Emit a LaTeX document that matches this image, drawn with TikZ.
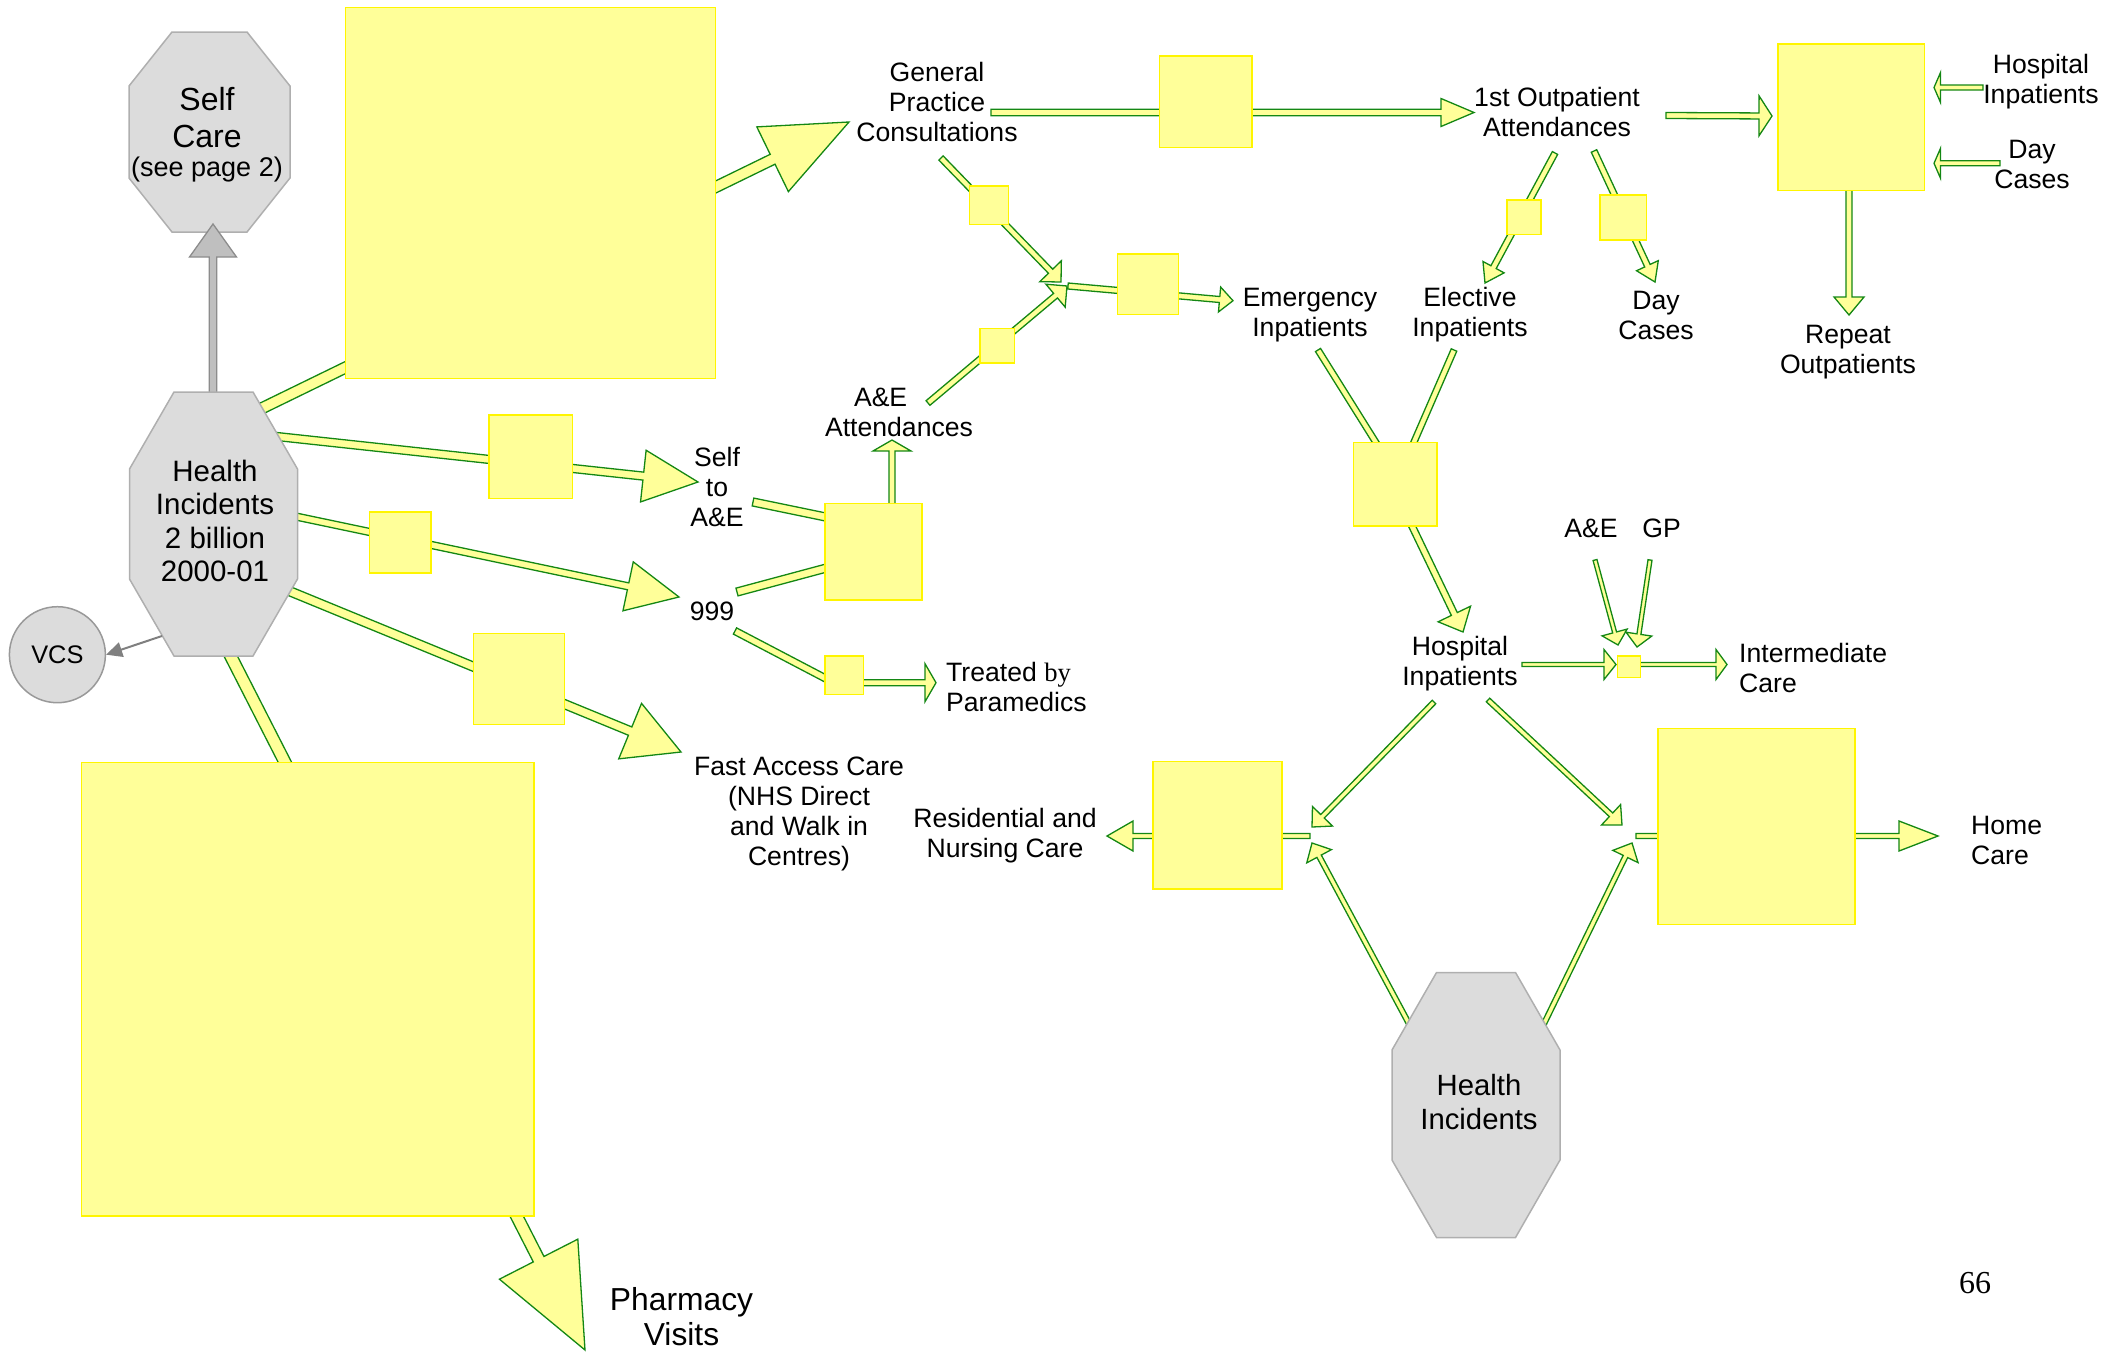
\documentclass[tikz,border=0pt]{standalone}
\usepackage{fontspec}
\setmainfont{Liberation Sans}
\newfontfamily\timesfont{Liberation Serif}
\usetikzlibrary{calc,arrows.meta}

\definecolor{flowFill}{RGB}{255,255,153}
\definecolor{flowEdge}{RGB}{20,135,20}
\definecolor{boxEdge}{RGB}{255,245,0}
\definecolor{caseFill}{RGB}{220,220,220}
\definecolor{caseEdge}{RGB}{175,175,175}

\tikzset{
  flow/.style={draw=flowEdge, fill=flowFill, line width=1.3pt},
  selfflow/.style={draw=black!45, fill=black!25, line width=1.3pt},
  box/.style={draw=boxEdge, fill=flowFill, line width=1.6pt, inner sep=0pt},
  case/.style={draw=caseEdge, fill=caseFill, line width=1.5pt},
  lbl/.style={font=\fontsize{26.6}{30}\selectfont, align=center, inner sep=0pt}
}

% block arrow: [style]{from}{tip}{half shaft}{half head}{head length}
\newcommand\flowarrow[6][flow]{%
  \coordinate (flowbase) at ($(#3)!#6pt!(#2)$);
  \filldraw[#1] ($(#2)!#4pt!90:(#3)$) -- ($(flowbase)!#4pt!90:(#3)$) -- ($(flowbase)!#5pt!90:(#3)$) -- (#3)
    -- ($(flowbase)!#5pt!-90:(#3)$) -- ($(flowbase)!#4pt!-90:(#3)$) -- ($(#2)!#4pt!-90:(#3)$) -- cycle;}
% shaft only: {from}{to}{half shaft}
\newcommand\flowshaft[3]{%
  \filldraw[flow] ($(#1)!#3pt!90:(#2)$) -- ($(#2)!#3pt!-90:(#1)$) -- ($(#2)!#3pt!90:(#1)$) -- ($(#1)!#3pt!-90:(#2)$) -- cycle;}
% octagon: {centre}{half width}{half height}{corner x}{corner y}
\newcommand\octagon[5]{%
  \filldraw[case] ($(#1)+(-#2+#4,-#3)$) -- ($(#1)+(#2-#4,-#3)$) -- ($(#1)+(#2,-#3+#5)$) -- ($(#1)+(#2,#3-#5)$)
    -- ($(#1)+(#2-#4,#3)$) -- ($(#1)+(-#2+#4,#3)$) -- ($(#1)+(-#2,#3-#5)$) -- ($(#1)+(-#2,-#3+#5)$) -- cycle;}

\begin{document}
\begin{tikzpicture}[x=1pt,y=-1pt]
  \useasboundingbox (0,0) rectangle (2125,1352);

  % ends of the flows
  \foreach \n/\x/\y in {
    gp-s/244/417, gp-t/849/122, ph-s/224/643, ph-t/585/1350,
    sa-s/263/435, sa-t/698/482, nn-s/284/514, nn-t/679/597,
    fa-s/277/586, fa-t/681/752, ae-s/892/530, ae-t/892/440,
    pm-s/845/682.7, pm-t/936/682.7, op-s/991/112.5, op-t/1474/112.5,
    gm-s/941/158, gm-t/1061/282, am-s/928/403, am-t/1067/286,
    em-s/1068/286, em-t/1233/300.7, el-s/1555/153, el-t/1485/283,
    dc-s/1594/151, dc-t/1655/282, ro-s/1666/115.5, ro-t/1772/116,
    hr-s/1983/87.5, hr-t/1934/87.5, dr-s/2000/163.3, dr-t/1934/163.3,
    rp-s/1849/170, rp-t/1849/315, hs-s/1399/499, hs-t/1463/632,
    ic-s/1522/664.5, ic-t/1616/664.5, ir-s/1630/664.5, ir-t/1727/664.5,
    ai-s/1595/560, ai-t/1618/645, gi-s/1650/560, gi-t/1637/647,
    hl-s/1434/702, hl-t/1312/827, hh-s/1488/700, hh-t/1622/825,
    ll-s/1415/1035, ll-t/1312/843, lh-s/1538/1036, lh-t/1632/843,
    rs-s/1310/836, rs-t/1107/836, hm-s/1636/836, hm-t/1938/836,
    sx-s/753/502, sx-e/845/521, nx-s/737/592, nx-e/845/563,
    px-s/735/631, px-e/840/686, eh-s/1318/350, eh-e/1390/465,
    lx-s/1454/350, lx-e/1404/465,
    sc-s/213/420, sc-t/213/224, vc-s/162/636,
    sc-c/209.5/132, hi-c/213.5/524, hi2-c/1476/1105}
    \coordinate (\n) at (\x,\y);

  % draw the flows
  \foreach \a/\b/\w/\hw/\hl in {
    gp-s/gp-t/5.5/36/85, ph-s/ph-t/6/44/102, sa-s/sa-t/4/26/55,
    nn-s/nn-t/3.5/25/52, fa-s/fa-t/4.5/30/55, ae-s/ae-t/3/19/11,
    pm-s/pm-t/3/19/11, op-s/op-t/3.2/14/33, gm-s/gm-t/3/15/15,
    am-s/am-t/3/15/15, em-s/em-t/3/12.5/13.5, el-s/el-t/3/12/18,
    dc-s/dc-t/3/12/18, ro-s/ro-t/3/20/13, hr-s/hr-t/2.5/15/6.5,
    dr-s/dr-t/2.5/15/6.5, rp-s/rp-t/3/15/18, hs-s/hs-t/3.3/18/20,
    ic-s/ic-t/2/15/12, ir-s/ir-t/2/15/11, ai-s/ai-t/2/13/13,
    gi-s/gi-t/2/13/13, hl-s/hl-t/2.5/14/15, hh-s/hh-t/2.5/14/15,
    ll-s/ll-t/2.5/14/15, lh-s/lh-t/2.5/14/15, rs-s/rs-t/2.5/15/26,
    hm-s/hm-t/2.5/15/39}
    {\flowarrow{\a}{\b}{\w}{\hw}{\hl}}
  \foreach \a/\b/\w in {sx-s/sx-e/4, nx-s/nx-e/4, px-s/px-e/3.5, eh-s/eh-e/3, lx-s/lx-e/3}
    {\flowshaft{\a}{\b}{\w}}

  % draw the boxes
  \foreach \n/\x/\y/\w/\h in {
    bgp/530.6/192.8/370/371, bph/307.8/989.2/452.4/453.7,
    bsa/530.6/456.7/83.6/83.3, bnn/400.2/542.2/61.6/61,
    bfa/518.9/678.8/90.8/91, bae/873.5/551.7/97/96.7,
    bpm/844.2/675.2/38.3/38.3, bop/1205.8/101.5/92.8/91.6,
    bgm/989/205/38.9/38.6, bam/997.2/345.5/34.3/34.4,
    bem/1148/284.2/61.2/60.3, bel/1524/217.2/34.5/34.3,
    bdc/1623.2/217.5/46.9/45, brp/1851.2/117.3/146.4/146.7,
    bhs/1395.4/484/83.6/83.4, bic/1629/666.7/23/21.3,
    brs/1217.5/825.3/129/127.4, bhm/1756.6/826.3/197.3/196}
    \node[box, minimum width=\w, minimum height=\h] (\n) at (\x,\y) {};

  % incidents and self care
  \octagon{sc-c}{80.5}{100}{43}{54}
  \flowarrow[selfflow]{sc-s}{sc-t}{3.8}{23.5}{33}
  \octagon{hi-c}{84}{132}{44.5}{77}
  \octagon{hi2-c}{84}{132.5}{44.5}{77.5}
  \node[circle, draw=black!40, fill=caseFill, line width=1.5pt, minimum size=96pt, inner sep=0pt,
    font=\fontsize{25.4}{29}\selectfont] (vcs) at (57.4,654.7) {VCS};
  \draw[draw=black!50, line width=2pt, -{Triangle[length=16pt,width=15pt]}] (vc-s) -- (vcs.east);

  \node[font=\fontsize{32}{37}\selectfont, align=center, inner sep=0pt] (sc) at (207,135)
    {Self\\Care\\[-8pt]{\fontsize{27}{30}\selectfont (see page 2)}};
  \node[font=\fontsize{29.5}{33.5}\selectfont, align=center, inner sep=0pt] (hi) at (215,521)
    {Health\\Incidents\\2 billion\\2000-01};
  \node[font=\fontsize{29.3}{34}\selectfont, align=center, inner sep=0pt] (hi2) at (1479,1102)
    {Health\\Incidents};

  % label all the activities
  \node[lbl] (gpc) at (937,102) {General\\Practice\\Consultations};
  \node[lbl] (opa) at (1557,112) {1st Outpatient\\Attendances};
  \node[lbl] (hip) at (2041,82) {Hospital\\Inpatients};
  \node[lbl] (dcr) at (2032,164) {Day\\Cases};
  \node[lbl] (rop) at (1848,352) {Repeat\\Outpatients};
  \node[lbl] (dcm) at (1656,315) {Day\\Cases};
  \node[lbl] (eli) at (1470,315) {Elective\\Inpatients};
  \node[lbl] (emi) at (1310,315) {Emergency\\Inpatients};
  \node[lbl] (aea) at (899,412) {\makebox[90pt][l]{A\&E}\\Attendances};
  \node[lbl] (sae) at (717,487) {Self\\to\\A\&E};
  \node[lbl] (n999) at (712,611) {999};
  \node[lbl, anchor=west, align=left] (tbp) at (946,687) {Treated {\timesfont by}\\Paramedics};
  \node[lbl] (fac) at (799,814) {Fast Access Care\\(NHS Direct\\and Walk in\\Centres)};
  \node[lbl] (rnc) at (1005,836) {Residential and\\Nursing Care};
  \node[lbl] (hin) at (1460,664) {Hospital\\Inpatients};
  \node[lbl, anchor=west, align=left] (imc) at (1739,668) {Intermediate\\Care};
  \node[lbl, anchor=west, align=left] (hmc) at (1971,840) {Home\\Care};
  \node[lbl, font=\fontsize{31.8}{35}\selectfont] (phv) at (681.5,1317) {Pharmacy\\Visits};
  \node[lbl] (aes) at (1591,528) {A\&E};
  \node[lbl] (gps) at (1661.5,528) {GP};
  \node[font=\timesfont\fontsize{32}{36}\selectfont, inner sep=0pt] (pg) at (1975,1283) {66};
\end{tikzpicture}
\end{document}
